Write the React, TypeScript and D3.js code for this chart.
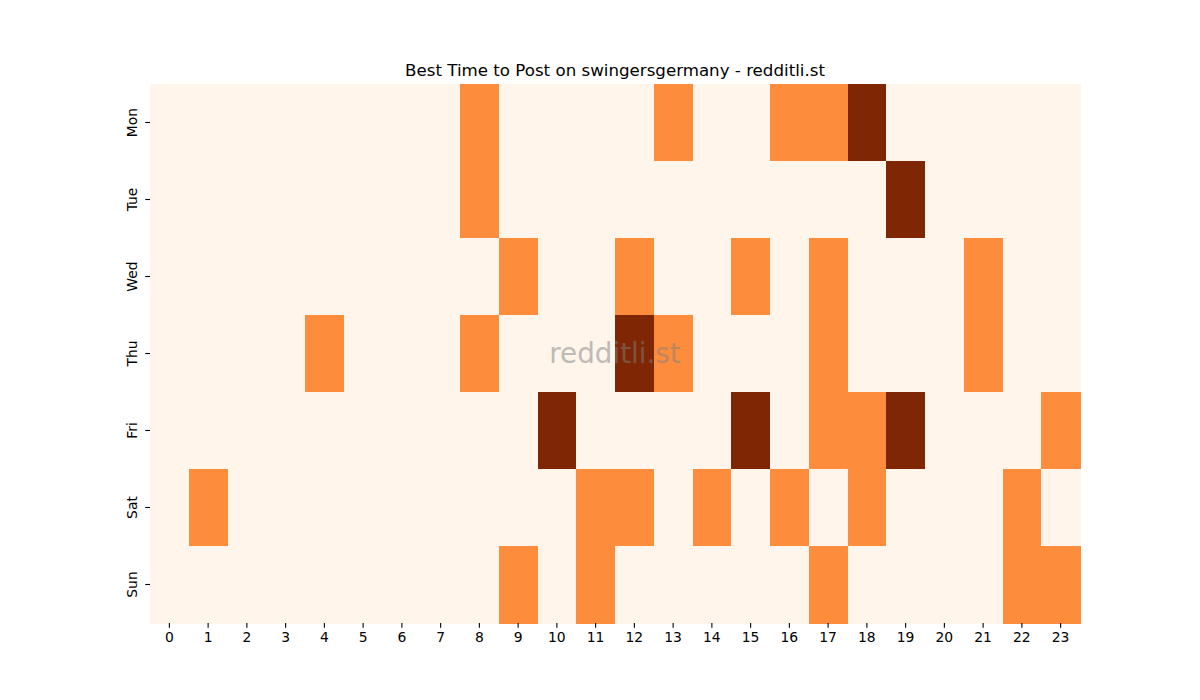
import React, { useEffect, useRef } from 'react'
import * as d3 from 'd3'

const days = ['Mon', 'Tue', 'Wed', 'Thu', 'Fri', 'Sat', 'Sun']
const hours = d3.range(24).map(String)

// activity level per hour (0 = low, 1 = medium, 2 = best)
const mon = [0, 0, 0, 0, 0, 0, 0, 0, 1, 0, 0, 0, 0, 1, 0, 0, 1, 1, 2, 0, 0, 0, 0, 0]
const tue = [0, 0, 0, 0, 0, 0, 0, 0, 1, 0, 0, 0, 0, 0, 0, 0, 0, 0, 0, 2, 0, 0, 0, 0]
const wed = [0, 0, 0, 0, 0, 0, 0, 0, 0, 1, 0, 0, 1, 0, 0, 1, 0, 1, 0, 0, 0, 1, 0, 0]
const thu = [0, 0, 0, 0, 1, 0, 0, 0, 1, 0, 0, 0, 2, 1, 0, 0, 0, 1, 0, 0, 0, 1, 0, 0]
const fri = [0, 0, 0, 0, 0, 0, 0, 0, 0, 0, 2, 0, 0, 0, 0, 2, 0, 1, 1, 2, 0, 0, 0, 1]
const sat = [0, 1, 0, 0, 0, 0, 0, 0, 0, 0, 0, 1, 1, 0, 1, 0, 1, 0, 1, 0, 0, 0, 1, 0]
const sun = [0, 0, 0, 0, 0, 0, 0, 0, 0, 1, 0, 1, 0, 0, 0, 0, 0, 1, 0, 0, 0, 0, 1, 1]
const levels = [mon, tue, wed, thu, fri, sat, sun]
const levelColors = ['#fff5eb', '#fd8d3c', '#7f2704']

const W = 1200
const H = 700
const margin = { top: 84, right: 120, bottom: 77, left: 150 }
const font = 'DejaVu Sans, sans-serif'

export default function App() {
  const svgRef = useRef<SVGSVGElement>(null)

  useEffect(() => {
    if (!svgRef.current) return
    const svg = d3.select(svgRef.current)
    svg.selectAll('*').remove()

    const x = d3.scaleBand().domain(hours).range([margin.left, W - margin.right])
    const y = d3.scaleBand().domain(days).range([margin.top, H - margin.bottom])
    const color = d3.scaleOrdinal<number, string>().domain([0, 1, 2]).range(levelColors)

    const cells = levels.flatMap((row, i) => row.map((v, h) => ({ day: days[i], hour: String(h), v })))

    svg.append('g')
      .selectAll('rect')
      .data(cells)
      .enter()
      .append('rect')
      .attr('x', (d) => x(d.hour) || 0)
      .attr('y', (d) => y(d.day) || 0)
      .attr('width', x.bandwidth() + 0.5)
      .attr('height', y.bandwidth() + 0.5)
      .attr('fill', (d) => color(d.v))
      .attr('shape-rendering', 'crispEdges')

    const xAxis = svg.append('g')
      .attr('transform', `translate(0,${H - margin.bottom})`)
      .call(d3.axisBottom(x).tickSize(4.7).tickPadding(4.8))
    const yAxis = svg.append('g')
      .attr('transform', `translate(${margin.left},0)`)
      .call(d3.axisLeft(y).tickSize(4.7).tickPadding(4.8))

    for (const ax of [xAxis, yAxis]) {
      ax.select('.domain').remove()
      ax.selectAll('line').attr('stroke', '#000').attr('stroke-width', 1.1)
      ax.selectAll('text').attr('font-family', font).attr('font-size', 13.9).attr('fill', '#000')
    }

    yAxis.selectAll<SVGTextElement, string>('.tick text')
      .attr('x', null)
      .attr('dy', null)
      .attr('text-anchor', 'middle')
      .attr('transform', 'translate(-17,0) rotate(-90)')
      .attr('dominant-baseline', 'middle')

    svg.append('text')
      .attr('x', (margin.left + W - margin.right) / 2)
      .attr('y', margin.top - 8)
      .attr('text-anchor', 'middle')
      .attr('font-family', font)
      .attr('font-size', 16.67)
      .text('Best Time to Post on swingersgermany - redditli.st')

    svg.append('text')
      .attr('x', (margin.left + W - margin.right) / 2)
      .attr('y', (margin.top + H - margin.bottom) / 2)
      .attr('text-anchor', 'middle')
      .attr('dominant-baseline', 'central')
      .attr('font-family', font)
      .attr('font-size', 27.8)
      .attr('fill', '#808080')
      .attr('opacity', 0.5)
      .text('redditli.st')
  }, [])

  return <svg ref={svgRef} width={W} height={H} style={{ display: 'block', margin: -8 }} />
}
